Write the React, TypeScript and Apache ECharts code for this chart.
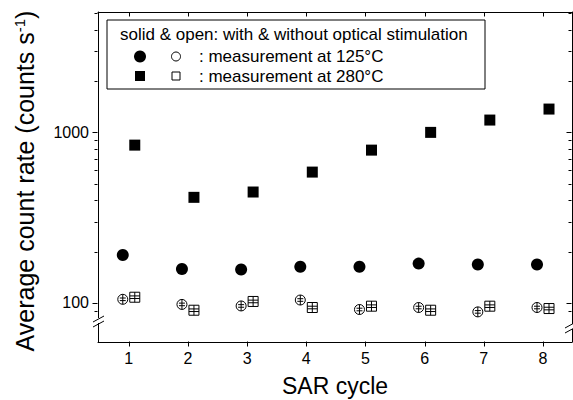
import React, { useEffect, useRef } from "react";
import * as echarts from "echarts";

const cycles = [1, 2, 3, 4, 5, 6, 7, 8];
const solid280 = [842, 416, 447, 585, 787, 1000, 1181, 1370];
const solid125 = [191, 158, 157, 163, 163, 170, 168, 168];
const open125 = [105, 98, 96, 104, 91.5, 94, 88.6, 94];
const open280 = [108, 90.6, 102, 94, 95.7, 90.6, 95.7, 92.7];
const majorY = [100, 1000];
const minorY = [90, 200, 300, 400, 500, 600, 700, 800, 900, 2000, 3000, 4000, 5000];
const xTicks = [1, 2, 3, 4, 5, 6, 7, 8];
const yTitle = "Average count rate (counts s{sup|-1})";
const xTitle = "SAR cycle";
const legendTitle = "solid & open: with & without optical stimulation";
const legendRows = [": measurement at 125°C", ": measurement at 280°C"];

const FONT = "'Liberation Sans', Arial, sans-serif";
const BLACK = "#000";
const X_MIN = 0.48;
const X_MAX = 8.49;
const Y_MIN = 59;
const Y_MAX = 5080;

const openCirclePath =
  "path://M0,-5 A5,5 0 1 1 0,5 A5,5 0 1 1 0,-5 Z M0,-5 L0,5 M-3,-1.3 L3,-1.3 M-3,1.3 L3,1.3";
const openSquarePath =
  "path://M-5,-5 L5,-5 L5,5 L-5,5 Z M0,-5 L0,5 M-5,-1.3 L5,-1.3 M-5,1.3 L5,1.3";

const pts = (vals: number[]) => cycles.map((c, i) => [c, vals[i]]);

const seg = (x1: number, y1: number, x2: number, y2: number) => ({
  type: "line",
  silent: true,
  z: 60,
  shape: { x1, y1, x2, y2 },
  style: { stroke: BLACK, lineWidth: 1 },
});

export default function App() {
  const ref = useRef<HTMLDivElement>(null);
  useEffect(() => {
    if (!ref.current) return;
    const chart = echarts.init(ref.current, null, { renderer: "svg" });
    const yCommon = { type: "log", logBase: 10, min: Y_MIN, max: Y_MAX, splitLine: { show: false } };
    const xCommon = { type: "value", min: X_MIN, max: X_MAX, splitLine: { show: false } };
    const lineStyle = { color: BLACK, width: 1 };
    chart.setOption({
      animation: false,
      backgroundColor: "#fff",
      grid: { left: 98, top: 12, right: 1, bottom: 58, containLabel: false, outerBoundsMode: "none" },
      xAxis: [
        {
          ...xCommon,
          position: "bottom",
          name: xTitle,
          nameLocation: "middle",
          nameGap: 32,
          nameTextStyle: { fontSize: 23, color: BLACK, fontFamily: FONT },
          axisLine: { show: true, onZero: false, lineStyle },
          axisTick: { show: false },
          axisLabel: { customValues: xTicks, fontSize: 16, color: BLACK, fontFamily: FONT, margin: 8 },
        },
        {
          ...xCommon,
          position: "top",
          axisLine: { show: true, onZero: false, lineStyle },
          axisTick: { show: false },
          axisLabel: { show: false },
        },
      ],
      yAxis: [
        {
          ...yCommon,
          position: "left",
          axisLine: { show: true, lineStyle },
          axisTick: { show: false },
          axisLabel: {
            customValues: majorY,
            fontSize: 16,
            color: BLACK,
            fontFamily: FONT,
            margin: 9,
            formatter: (v: number) => String(Math.round(v)),
          },
        },
        {
          ...yCommon,
          position: "right",
          axisLine: { show: true, lineStyle },
          axisTick: { show: false },
          axisLabel: { show: false },
        },
      ],
      series: [
        {
          type: "scatter",
          name: "open 125",
          data: pts(open125),
          symbol: openCirclePath,
          symbolSize: 10,
          symbolOffset: [-6, 0],
          itemStyle: { color: "#fff", borderColor: BLACK, borderWidth: 1, opacity: 1 },
        },
        {
          type: "scatter",
          name: "open 280",
          data: pts(open280),
          symbol: openSquarePath,
          symbolSize: 10,
          symbolOffset: [6, 0],
          itemStyle: { color: "#fff", borderColor: BLACK, borderWidth: 1, opacity: 1 },
        },
        {
          type: "scatter",
          name: "solid 125",
          data: pts(solid125),
          symbol: "circle",
          symbolSize: 12,
          symbolOffset: [-6, 0],
          itemStyle: { color: BLACK, opacity: 1 },
        },
        {
          type: "scatter",
          name: "solid 280",
          data: pts(solid280),
          symbol: "rect",
          symbolSize: 11,
          symbolOffset: [6, 0],
          itemStyle: { color: BLACK, opacity: 1 },
        },
      ],
    });

    // ticks computed through the axes' own scales
    const px = (v: number) => chart.convertToPixel({ xAxisIndex: 0 }, v) as number;
    const py = (v: number) => chart.convertToPixel({ yAxisIndex: 0 }, v) as number;
    const xl = Math.round(px(X_MIN)) - 0.5;
    const xr = Math.round(px(X_MAX)) - 0.5;
    const yb = Math.round(py(Y_MIN)) - 0.5;
    const yt = Math.round(py(Y_MAX)) + 0.5;
    const ticks: any[] = [];
    const addY = (v: number, len: number) => {
      const y = Math.round(py(v)) + 0.5;
      ticks.push(seg(xl - len, y, xl, y));
      ticks.push(seg(xr - len, y, xr, y));
    };
    majorY.forEach((v) => addY(v, 5));
    minorY.forEach((v) => addY(v, 3));
    xTicks.forEach((v) => {
      const x = Math.round(px(v)) + 0.5;
      ticks.push(seg(x, yb, x, yb + 5));
      ticks.push(seg(x, yt, x, yt + 4));
    });

    chart.setOption({
      graphic: [
        ...ticks,
        // y axis title
        {
          type: "text",
          x: 25,
          y: 181,
          rotation: Math.PI / 2,
          style: {
            text: yTitle,
            font: `25px ${FONT}`,
            fill: BLACK,
            align: "center",
            verticalAlign: "middle",
            rich: {
              sup: { fontSize: 15, fontFamily: FONT, fill: BLACK, padding: [0, 0, 11, 0] },
            },
          },
          z: 50,
        },
        // axis break marks, left
        { type: "rect", shape: { x: 95, y: 318, width: 7, height: 5 }, style: { fill: "#fff" }, z: 100 },
        { type: "line", shape: { x1: 93, y1: 322, x2: 104, y2: 316 }, style: { stroke: BLACK, lineWidth: 1 }, z: 101 },
        { type: "line", shape: { x1: 93, y1: 327, x2: 104, y2: 321 }, style: { stroke: BLACK, lineWidth: 1 }, z: 101 },
        // axis break marks, right
        { type: "rect", shape: { x: 568, y: 324, width: 5, height: 5 }, style: { fill: "#fff" }, z: 100 },
        { type: "line", shape: { x1: 565, y1: 328, x2: 576, y2: 322 }, style: { stroke: BLACK, lineWidth: 1 }, z: 101 },
        { type: "line", shape: { x1: 565, y1: 333, x2: 576, y2: 327 }, style: { stroke: BLACK, lineWidth: 1 }, z: 101 },
        // legend box
        {
          type: "rect",
          shape: { x: 107, y: 20, width: 378, height: 69 },
          style: { fill: "#fff", stroke: BLACK, lineWidth: 1 },
          z: 90,
        },
        {
          type: "text",
          x: 120,
          y: 34,
          style: { text: legendTitle, font: `17px ${FONT}`, fill: BLACK, verticalAlign: "middle" },
          z: 91,
        },
        { type: "circle", shape: { cx: 140, cy: 56.5, r: 6 }, style: { fill: BLACK }, z: 91 },
        { type: "circle", shape: { cx: 176, cy: 56.5, r: 4.5 }, style: { fill: "#fff", stroke: BLACK, lineWidth: 1 }, z: 91 },
        {
          type: "text",
          x: 199,
          y: 56.5,
          style: { text: legendRows[0], font: `17px ${FONT}`, fill: BLACK, verticalAlign: "middle" },
          z: 91,
        },
        { type: "rect", shape: { x: 135, y: 71, width: 10, height: 10 }, style: { fill: BLACK }, z: 91 },
        { type: "rect", shape: { x: 172, y: 72, width: 8, height: 8 }, style: { fill: "#fff", stroke: BLACK, lineWidth: 1 }, z: 91 },
        {
          type: "text",
          x: 199,
          y: 76,
          style: { text: legendRows[1], font: `17px ${FONT}`, fill: BLACK, verticalAlign: "middle" },
          z: 91,
        },
      ],
    });
    return () => chart.dispose();
  }, []);
  return (
    <div
      ref={ref}
      style={{ position: "fixed", left: 0, top: 0, width: 573, height: 400, background: "#fff" }}
    />
  );
}
